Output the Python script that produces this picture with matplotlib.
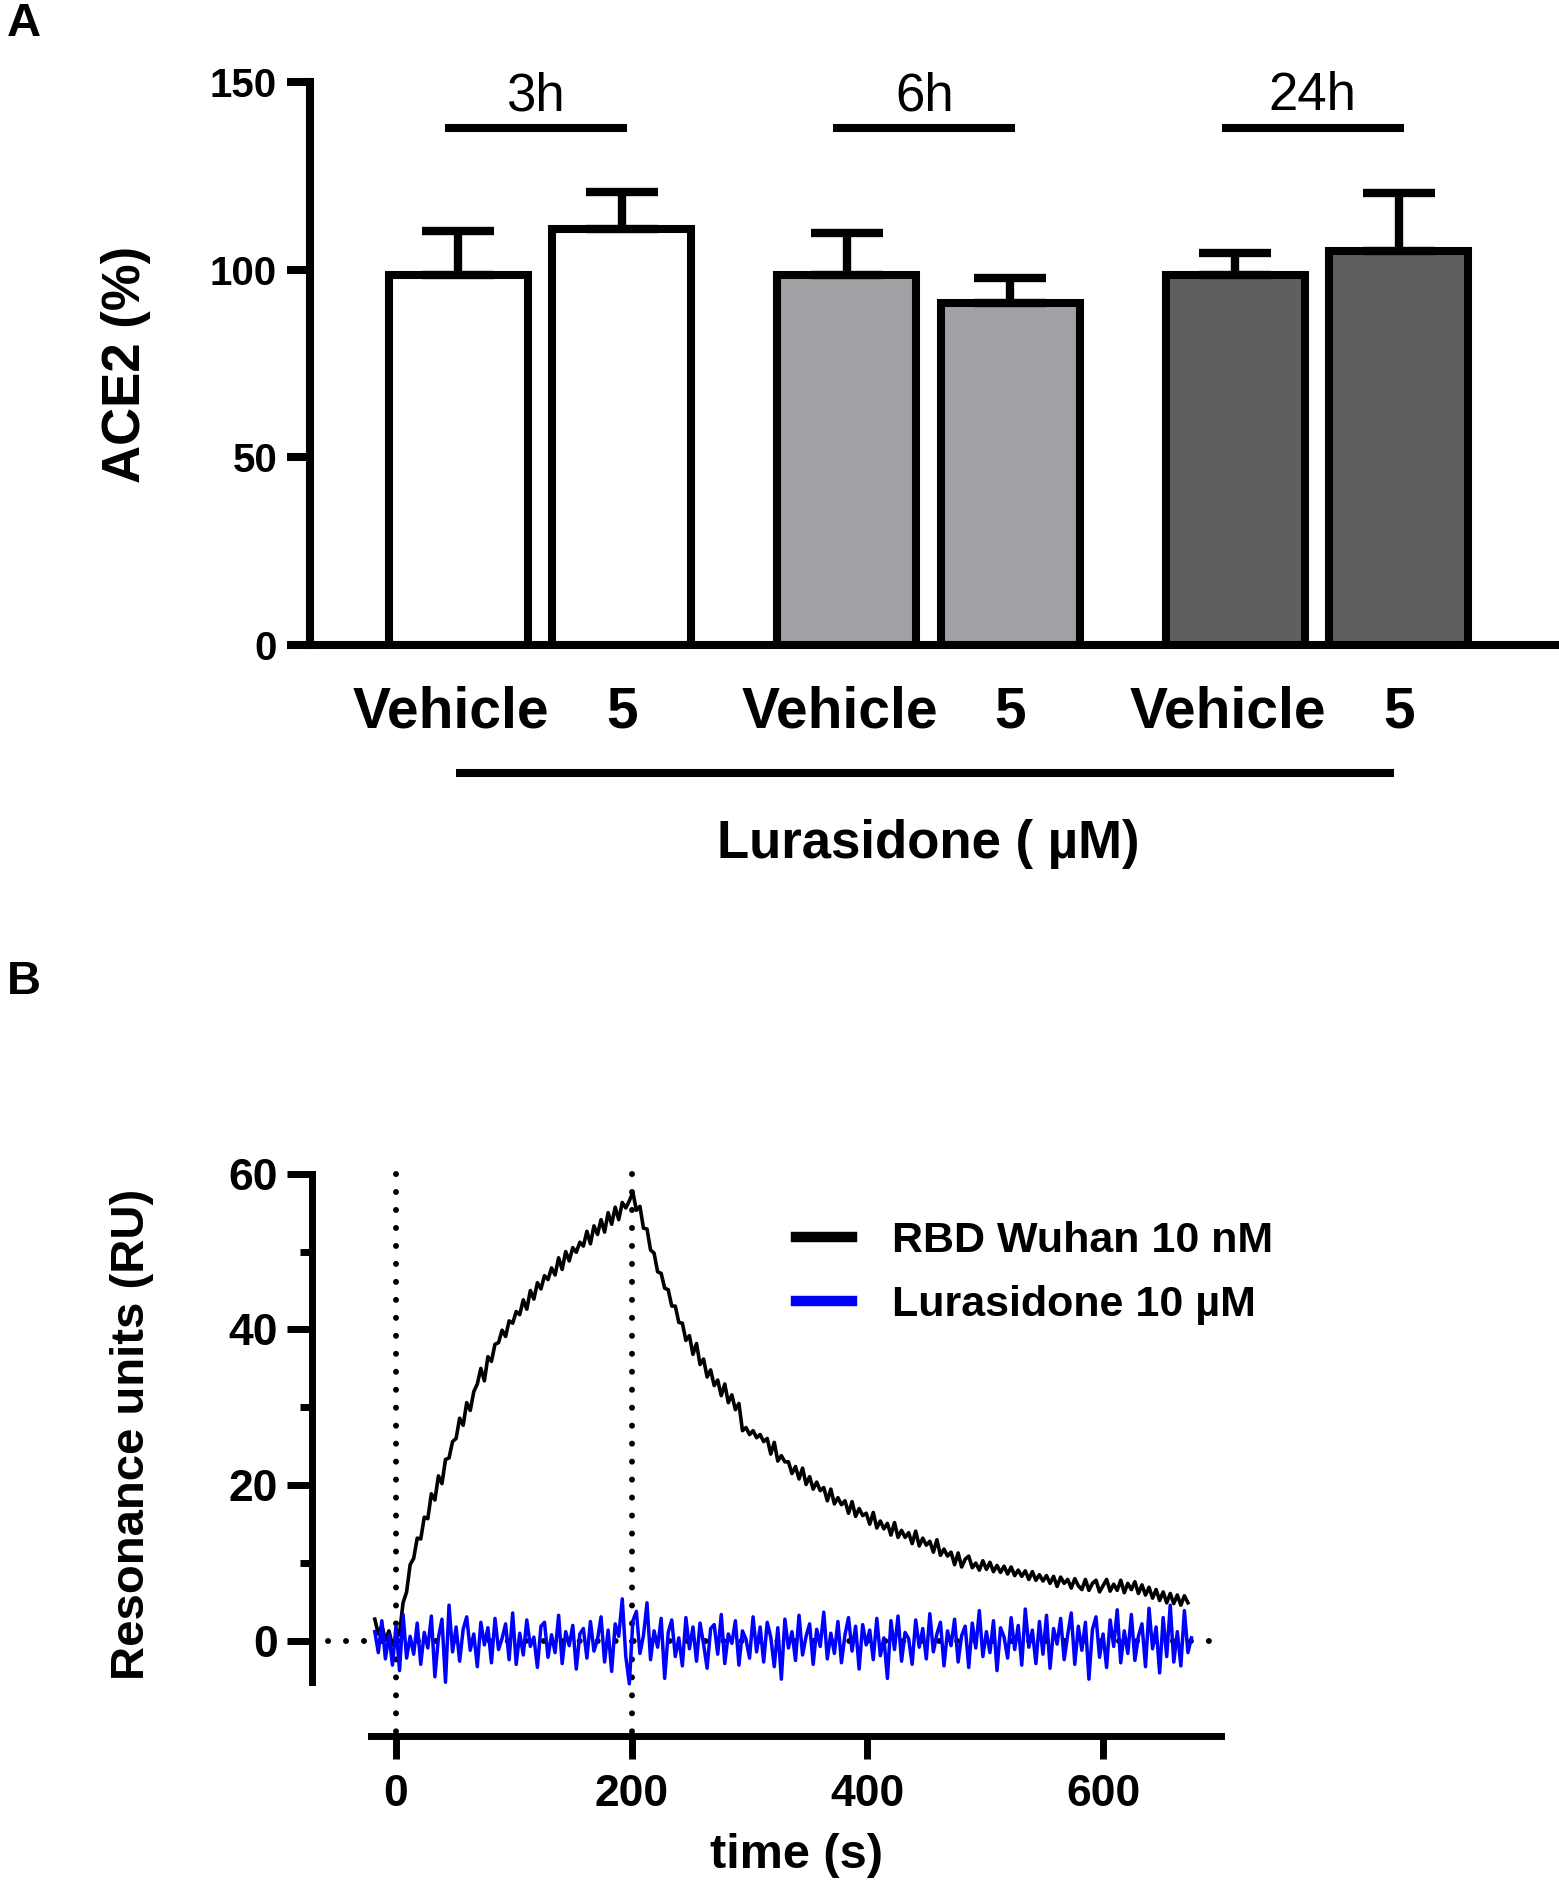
import numpy as np
import matplotlib
matplotlib.use("Agg")
import matplotlib.pyplot as plt
from matplotlib.transforms import ScaledTranslation

plt.rcParams['font.family'] = ['Liberation Sans', 'DejaVu Sans']

# ---------------- Panel A data ----------------
groups = ['3h', '6h', '24h']
bar_labels = ['Vehicle', '5', 'Vehicle', '5', 'Vehicle', '5']
ace2_mean = [98.5, 110.7, 98.5, 91.2, 98.5, 104.9]
ace2_sd = [11.7, 9.9, 11.3, 6.6, 5.8, 15.4]
bar_colors = ['#ffffff', '#ffffff', '#a1a1a5', '#a1a1a5', '#5f5f5f', '#5f5f5f']
a_yticks = [0, 50, 100, 150]

# ---------------- Panel B data ----------------
b_yticks = [0, 20, 40, 60]
b_yminor = [10, 30, 50]
b_xticks = [0, 200, 400, 600]
injection_marks = [0, 200]
t_start = -18
t_step = 3
rbd_wuhan = [
    2.8, 0.9, 2.0, 0.1, 1.3, -0.5, 0.2, 1.0, 4.9, 6.3, 9.8, 10.6,
    13.2, 13.1, 15.9, 15.7, 18.9, 18.1, 21.2, 20.2, 23.3, 23.5, 25.6, 26.0,
    28.6, 27.7, 30.6, 29.6, 32.0, 33.0, 35.0, 33.4, 36.5, 35.9, 38.1, 38.3,
    39.9, 39.1, 41.1, 40.8, 42.3, 41.9, 43.8, 42.6, 45.0, 43.9, 46.0, 45.2,
    46.9, 46.4, 47.9, 47.0, 49.2, 47.7, 50.0, 48.8, 50.5, 49.9, 51.2, 50.7,
    52.6, 51.0, 53.3, 52.2, 54.1, 52.5, 55.0, 53.5, 55.7, 54.1, 56.3, 55.6,
    56.5, 57.6, 55.3, 55.8, 53.0, 52.9, 50.2, 49.8, 47.4, 47.2, 45.3, 45.1,
    43.0, 43.0, 40.9, 40.8, 38.6, 39.2, 36.8, 38.2, 35.5, 36.2, 33.9, 34.8,
    32.8, 33.5, 31.5, 33.0, 30.6, 31.6, 29.7, 30.5, 27.0, 27.4, 26.5, 27.0,
    26.1, 26.5, 25.6, 26.0, 24.0, 25.5, 23.1, 23.8, 23.0, 23.0, 21.5, 22.4,
    20.8, 22.2, 20.1, 21.1, 19.5, 20.4, 19.3, 19.7, 18.0, 19.5, 17.6, 18.4,
    17.5, 18.0, 16.4, 17.9, 16.0, 17.0, 16.1, 16.4, 15.0, 16.5, 14.5, 15.4,
    14.4, 15.1, 13.6, 15.2, 13.3, 14.2, 13.3, 13.9, 12.5, 14.1, 12.2, 13.2,
    12.3, 12.8, 11.4, 13.0, 11.0, 11.8, 10.9, 11.4, 9.8, 11.3, 9.5, 10.5,
    10.9, 9.4, 10.0, 9.1, 10.3, 9.2, 10.1, 8.9, 9.7, 8.8, 9.6, 8.6,
    9.5, 8.4, 9.1, 8.3, 9.0, 7.9, 8.9, 7.8, 8.5, 7.7, 8.4, 7.4,
    8.3, 7.0, 8.2, 7.4, 7.9, 6.8, 8.0, 7.1, 6.6, 7.9, 6.5, 7.4,
    7.8, 6.3, 7.1, 7.9, 6.4, 7.3, 6.5, 7.8, 6.2, 7.4, 6.6, 7.6,
    6.1, 7.2, 5.9, 6.9, 5.5, 6.6, 5.2, 6.3, 4.9, 6.1, 4.8, 5.9,
    4.6, 5.8, 4.9,
]
lurasidone = [
    1.2, -1.5, 2.6, -2.3, 0.8, -3.1, 1.9, -3.8, 3.4, -2.2, 0.6, -1.7,
    2.3, -3.0, 1.1, -0.9, 3.2, -4.6, 0.4, 2.8, -5.3, 4.6, -1.4, 1.8,
    -2.6, 1.5, 3.1, -1.2, 0.9, -3.3, 2.4, -0.5, 1.7, -2.8, 2.9, -1.1,
    0.3, 2.2, -2.4, 3.6, -3.0, 1.0, -1.8, 2.7, -0.7, 0.5, -3.4, 1.9,
    2.4, -2.1, 0.8, -1.5, 3.3, -2.9, 1.2, -0.6, 2.0, -3.6, 0.9, 1.6,
    -2.2, 2.5, -1.3, 0.2, 3.1, -2.7, 1.4, -3.9, 2.2, 0.6, 5.4, -2.0,
    -5.5, 2.6, 3.8, -1.6, 0.7, 4.9, -2.4, 1.3, -0.8, 2.9, -4.8, 1.1,
    2.7, -2.0, 0.4, -3.2, 3.0, -1.0, 1.8, -2.6, 2.3, -0.4, -3.5, 1.6,
    2.1, -1.7, 3.4, -2.9, 0.9, -0.3, 2.6, -3.1, 1.3, 0.2, -2.2, 3.1,
    -1.4, 1.8, -2.7, 2.4, 0.5, -3.3, 1.7, -4.9, 2.8, -0.9, 1.2, -2.5,
    3.3, -1.8, 0.6, 2.2, -3.0, 1.5, -0.7, 3.7, -2.3, 1.0, -1.6, 2.5,
    -2.8, 0.8, 3.0, -1.3, 1.9, -3.6, 2.1, -0.5, 1.4, -2.4, 2.9, -1.9,
    0.4, -4.8, 2.6, -1.1, 3.2, -2.6, 1.1, 0.3, -3.0, 2.7, -0.8, 1.6,
    -2.3, 3.5, -1.4, 0.9, 2.4, -3.2, 1.3, -0.6, 2.8, -2.7, 0.7, 1.9,
    -3.4, 2.3, -0.9, 3.9, -2.0, 1.2, -1.5, 2.6, -3.8, 1.7, 0.5, -2.2,
    3.0, -1.1, 2.0, -3.1, 4.1, -0.8, 1.4, -2.9, 2.5, -1.7, 3.3, -3.5,
    1.6, -0.4, 2.9, -2.4, 0.8, 3.6, -3.0, 1.9, -1.2, 2.4, -4.9, 1.5,
    3.1, -2.1, 0.9, -3.4, 2.7, -0.7, 4.0, -2.8, 1.3, -1.6, 3.4, -2.5,
    0.6, 2.2, -3.3, 4.2, -1.0, 1.8, -4.1, 3.0, -2.0, 4.6, -2.7, 1.2,
    -3.2, 3.9, -1.5, 0.4,
]
series_names = ['RBD Wuhan 10 nM', 'Lurasidone 10 \u00b5M']
series_colors = ['#000000', '#0000ff']

# ---------------- Figure ----------------
W, H = 1559, 1887
fig = plt.figure(figsize=(W / 100, H / 100), dpi=100)

# ---------- Panel A ----------
axA = fig.add_axes([310 / W, 1 - 645.2 / H, (W - 310) / W, 563.5 / H])
xpos = [g * 2.375 + i for g in range(len(groups)) for i in range(2)]
axA.bar(xpos, ace2_mean, width=0.85, color=bar_colors, edgecolor='black',
        linewidth=5.8, zorder=2)
axA.errorbar(xpos, ace2_mean, yerr=[np.zeros(len(ace2_sd)), ace2_sd], fmt='none',
             ecolor='black', elinewidth=6, capsize=26, capthick=6, zorder=3)
axA.set_xlim(-0.905, 6.73)
axA.set_ylim(0, 150)
for s in ['top', 'right']:
    axA.spines[s].set_visible(False)
for s in ['left', 'bottom']:
    axA.spines[s].set_linewidth(5.8)
    axA.spines[s].set_capstyle('projecting')
axA.set_yticks(a_yticks)
axA.tick_params(axis='y', length=16.7, width=5.8, pad=7, labelsize=29, direction='out')
for lbl in axA.get_yticklabels():
    lbl.set_fontweight('bold')
axA.set_xticks(xpos)
axA.set_xticklabels(bar_labels, fontsize=41, fontweight='bold')
axA.tick_params(axis='x', length=0, pad=29)
shift_left = ScaledTranslation(-0.07, 0, fig.dpi_scale_trans)
for lbl, txt in zip(axA.get_xticklabels(), bar_labels):
    if txt == 'Vehicle':
        lbl.set_transform(lbl.get_transform() + shift_left)

for g, name in enumerate(groups):
    cx = (xpos[2 * g] + xpos[2 * g + 1]) / 2 - 0.025
    axA.plot([cx - 0.555, cx + 0.555], [137.6, 137.6], color='black', lw=5.8,
             solid_capstyle='butt', clip_on=False, zorder=4)
    axA.text(cx, 142.4, name, ha='center', va='baseline', fontsize=38, clip_on=False)

axA.plot([xpos[0] - 0.01, xpos[-1] - 0.03], [-34.1, -34.1], color='black', lw=5.8,
         solid_capstyle='butt', clip_on=False)
axA.text((xpos[0] + xpos[-1]) / 2 + 0.0, -56.7, 'Lurasidone ( \u00b5M)', ha='center',
         va='baseline', fontsize=38, fontweight='bold', clip_on=False)

fig.text(126 / W, 1 - 364 / H, 'ACE2 (%)', rotation=90, ha='center', va='center',
         fontsize=38, fontweight='bold')
fig.text(24 / W, 1 - 24 / H, 'A', ha='center', va='center', fontsize=34, fontweight='bold')

# ---------- Panel B ----------
axB = fig.add_axes([311.5 / W, 1 - 1736 / H, 921.2 / W, 577.9 / H])
axB.set_xlim(-71.7, 710)
axB.set_ylim(-12.2, 62)

dot_style = dict(color='black', lw=4.3, linestyle=(0, (0.01, 3.0)),
                 dash_capstyle='round', zorder=1)
for m in injection_marks:
    axB.plot([m, m], [60, -12.2], **dot_style)
axB.plot([-58, 690], [0, 0], **dot_style)

t_rbd = t_start + t_step * np.arange(len(rbd_wuhan))
t_lur = t_start + t_step * np.arange(len(lurasidone))
l1, = axB.plot(t_rbd, rbd_wuhan, color=series_colors[0], lw=2.6, zorder=2,
               label=series_names[0])
l2, = axB.plot(t_lur, lurasidone, color=series_colors[1], lw=2.5, zorder=3,
               label=series_names[1])

for s in ['top', 'right']:
    axB.spines[s].set_visible(False)
for s in ['left', 'bottom']:
    axB.spines[s].set_linewidth(5.0)
axB.spines['left'].set_bounds(-5.3, 60)
axB.spines['bottom'].set_bounds(-21, 700)
axB.set_yticks(b_yticks)
axB.set_yticks(b_yminor, minor=True)
axB.set_xticks(b_xticks)
axB.tick_params(axis='y', which='major', length=17.8, width=5.0, pad=6.3, labelsize=32)
axB.tick_params(axis='y', which='minor', length=9, width=5.0)
axB.tick_params(axis='x', which='major', length=16.5, width=5.0, pad=11, labelsize=32)
for lbl in axB.get_yticklabels() + axB.get_xticklabels():
    lbl.set_fontweight('bold')

leg = axB.legend(handles=[l1, l2], loc='upper left',
                 bbox_to_anchor=(796 / W, 1 - 1221 / H), bbox_transform=fig.transFigure,
                 frameon=False, prop={'size': 31, 'weight': 'bold'},
                 handlelength=1.3, handletextpad=0.92, labelspacing=0.55,
                 borderpad=0, borderaxespad=0)
for h in leg.legend_handles:
    h.set_linewidth(7.5)

fig.text(132 / W, 1 - 1434 / H, 'Resonance units (RU)', rotation=90, ha='center',
         va='center', fontsize=34, fontweight='bold')
fig.text(796 / W, 1 - 1855 / H, 'time (s)', ha='center', va='center', fontsize=35,
         fontweight='bold')
fig.text(24 / W, 1 - 982 / H, 'B', ha='center', va='center', fontsize=34, fontweight='bold')

fig.savefig('out.png', dpi=100)
